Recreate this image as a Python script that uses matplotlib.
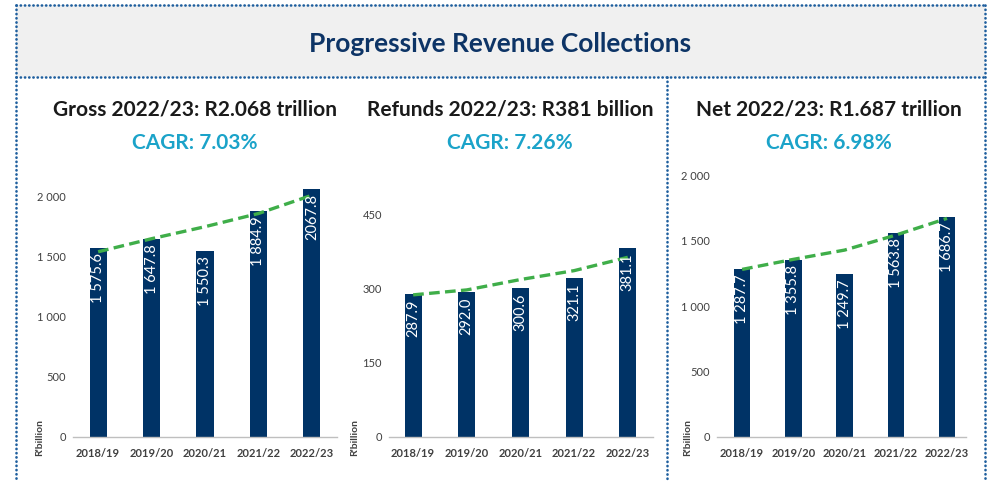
import matplotlib.pyplot as plt
from matplotlib.lines import Line2D
from matplotlib.patches import Rectangle

plt.rcParams['font.family'] = ['Lato', 'DejaVu Sans']

# data
years = ['2018/19', '2019/20', '2020/21', '2021/22', '2022/23']
gross = [1575.6, 1647.8, 1550.3, 1884.9, 2067.8]
refunds = [287.9, 292.0, 300.6, 321.1, 381.1]
net = [1287.7, 1355.8, 1249.7, 1563.8, 1686.7]
gross_labels = ['1 575.6', '1 647.8', '1 550.3', '1 884.9', '2067.8']
refunds_labels = ['287.9', '292.0', '300.6', '321.1', '381.1']
net_labels = ['1 287.7', '1 355.8', '1 249.7', '1 563.8', '1 686.7']
# dashed trend lines
gross_trend = [1541, 1650, 1750, 1860, 2012]
refunds_trend = [287, 297, 318, 336, 363]
net_trend = [1282, 1359, 1430, 1545, 1673]

titles = ['Gross 2022/23: R2.068 trillion', 'Refunds 2022/23: R381 billion', 'Net 2022/23: R1.687 trillion']
cagr = ['CAGR: 7.03%', 'CAGR: 7.26%', 'CAGR: 6.98%']
yticks = [[0, 500, 1000, 1500, 2000], [0, 150, 300, 450], [0, 500, 1000, 1500, 2000]]

W, H = 988, 486
NAVY = '#003366'
GREEN = '#3fae49'
CYAN = '#1ba3c9'
DOTS = '#1f5f9e'
GREY = '#404040'

fig = plt.figure(figsize=(W / 100, H / 100), dpi=100)


def fx(px):
    return px / W


def fy(py):
    return 1 - py / H


def dotted(x0, y0, x1, y1):
    fig.add_artist(Line2D([fx(x0), fx(x1)], [fy(y0), fy(y1)], color=DOTS, lw=1.9,
                          linestyle=(0, (0.1, 1.5)), dash_capstyle='round'))


# banner
fig.add_artist(Rectangle((fx(16), fy(77)), fx(985) - fx(16), fy(5) - fy(77),
                         facecolor='#f0f0f0', edgecolor='none'))
dotted(16, 5, 985, 5)
dotted(16, 77, 985, 77)
dotted(16, 5, 16, 482)
dotted(985, 5, 985, 482)
dotted(667, 77, 667, 482)
fig.text(fx(500), fy(44), 'Progressive Revenue Collections', ha='center', va='center',
         fontsize=19, fontweight='bold', color='#0d3466')

# axes placement in pixels
panels = [
    dict(vals=gross, labels=gross_labels, trend=gross_trend, left=73, right=337, top=184.7,
         ymax=2100, xlim=(-0.47, 4.47), cx=195, lab_x=40),
    dict(vals=refunds, labels=refunds_labels, trend=refunds_trend, left=389, right=653,
         top=214.3, ymax=450, xlim=(-0.45, 4.47), cx=510, lab_x=355),
    dict(vals=net, labels=net_labels, trend=net_trend, left=717, right=966, top=175.7,
         ymax=2000, xlim=(-0.49, 4.37), cx=829, lab_x=688),
]
zero_y = 436.7

for i, p in enumerate(panels):
    ax = fig.add_axes([fx(p['left']), fy(zero_y), fx(p['right']) - fx(p['left']),
                       fy(p['top']) - fy(zero_y)])
    x = range(len(years))
    ax.bar(x, p['vals'], width=0.32, color=NAVY, zorder=2)
    ax.plot(x, p['trend'], color=GREEN, lw=2.4, linestyle=(0, (3.2, 1.6)), zorder=3)
    for xi, v, lab in zip(x, p['vals'], p['labels']):
        ax.annotate(lab, (xi, v), xytext=(0, -4), textcoords='offset points',
                    rotation=90, ha='center', va='top', color='white', fontsize=10.5,
                    zorder=4)
    ax.set_xlim(*p['xlim'])
    ax.set_ylim(0, p['ymax'])
    ax.set_yticks(yticks[i])
    ax.set_yticklabels([f'{t:,}'.replace(',', ' ') for t in yticks[i]])
    ax.set_xticks(list(x))
    ax.set_xticklabels(years, fontweight='bold')
    ax.tick_params(length=0, labelsize=8, colors=GREY, pad=5)
    ax.tick_params(axis='x', pad=8)
    for s in ['top', 'right', 'left']:
        ax.spines[s].set_visible(False)
    ax.spines['bottom'].set_color('#bfbfbf')
    ax.spines['bottom'].set_linewidth(1)
    ax.patch.set_alpha(0)

    fig.text(fx(p['lab_x']), fy(437), "R'billion", rotation=90, ha='center', va='center',
             fontsize=7.5, fontweight='bold', color=GREY)
    fig.text(fx(p['cx']), fy(110), titles[i], ha='center', va='center', fontsize=15,
             fontweight='bold', color='#1a1a1a')
    fig.text(fx(p['cx']), fy(143), cagr[i], ha='center', va='center', fontsize=15,
             fontweight='bold', color=CYAN)

plt.savefig('out.png', dpi=100)
